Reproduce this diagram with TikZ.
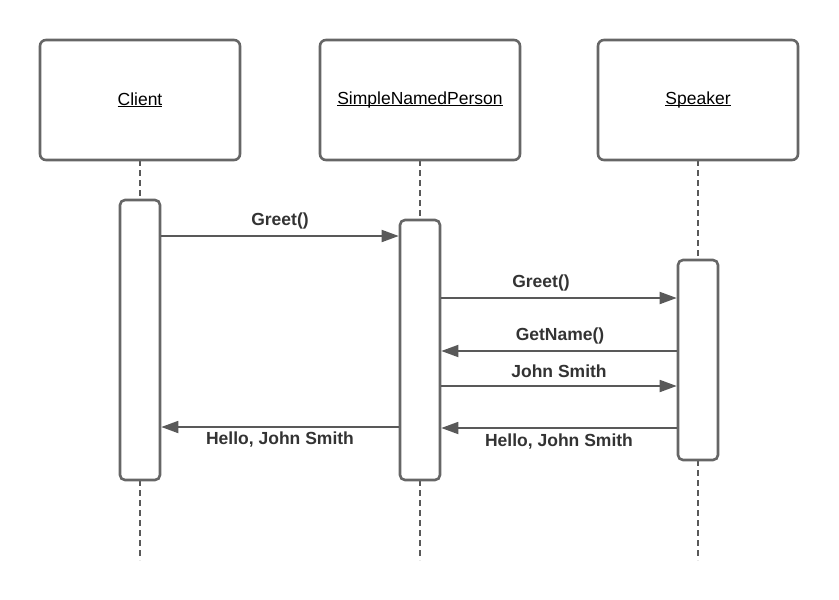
\documentclass[tikz,border=0pt]{standalone}
\usepackage{fontspec}
\setmainfont{Liberation Sans}
\usetikzlibrary{arrows.meta}
\definecolor{ln}{HTML}{595959}
\definecolor{bx}{HTML}{666666}
\definecolor{tx}{HTML}{333333}
\newcommand{\ulbl}[1]{\setbox0=\hbox{#1}\rlap{\rule[-1.6pt]{\wd0}{1pt}}\box0}
\begin{document}
\begin{tikzpicture}[x=1pt,y=-1pt,
  actor/.style={draw=bx,line width=2.6pt,rounded corners=6pt,fill=white,minimum width=200pt,minimum height=120pt,inner sep=0pt,font=\fontsize{17.5}{20}\selectfont,text=black},
  act/.style={draw=bx,line width=2.6pt,rounded corners=5pt,fill=white,minimum width=40pt,inner sep=0pt},
  life/.style={draw=ln,line width=1.5pt,dash pattern=on 6pt off 4pt},
  msg/.style={draw=ln,line width=1.8pt,-{Triangle[length=17pt,width=12pt]},color=ln},
  lbl/.style={font=\bfseries\fontsize{17.5}{20}\selectfont,text=tx,inner sep=0pt}]
\useasboundingbox (0,0) rectangle (839,600);
% lifelines
\coordinate (c1) at (140,160); \coordinate (c2) at (140,560);
\coordinate (s1) at (420,160); \coordinate (s2) at (420,560);
\coordinate (p1) at (698,160); \coordinate (p2) at (698,560);
\draw[life] (c1) -- (c2);
\draw[life] (s1) -- (s2);
\draw[life] (p1) -- (p2);
% actors
\node[actor] (client) at (140,100) {\ulbl{Client}};
\node[actor] (snp) at (420,100) {\ulbl{SimpleNamedPerson}};
\node[actor] (spk) at (698,100) {\ulbl{Speaker}};
% activations
\node[act,minimum height=280pt] (ca) at (140,340) {};
\node[act,minimum height=260pt] (sa) at (420,350) {};
\node[act,minimum height=200pt] (pa) at (698,360) {};
% messages
\draw[msg] (ca.east |- 0,236) -- (sa.west |- 0,236);
\node[lbl] (l1) at (280,221) {Greet()};
\draw[msg] (sa.east |- 0,298) -- (pa.west |- 0,298);
\node[lbl] (l2) at (541,283) {Greet()};
\draw[msg] (pa.west |- 0,351) -- (sa.east |- 0,351);
\node[lbl] (l3) at (560,336) {GetName()};
\draw[msg] (sa.east |- 0,386) -- (pa.west |- 0,386);
\node[lbl] (l4) at (559,371) {John Smith};
\draw[msg] (sa.west |- 0,427) -- (ca.east |- 0,427);
\node[lbl] (l5) at (280,440) {Hello, John Smith};
\draw[msg] (pa.west |- 0,428) -- (sa.east |- 0,428);
\node[lbl] (l6) at (559,442) {Hello, John Smith};
\end{tikzpicture}
\end{document}
